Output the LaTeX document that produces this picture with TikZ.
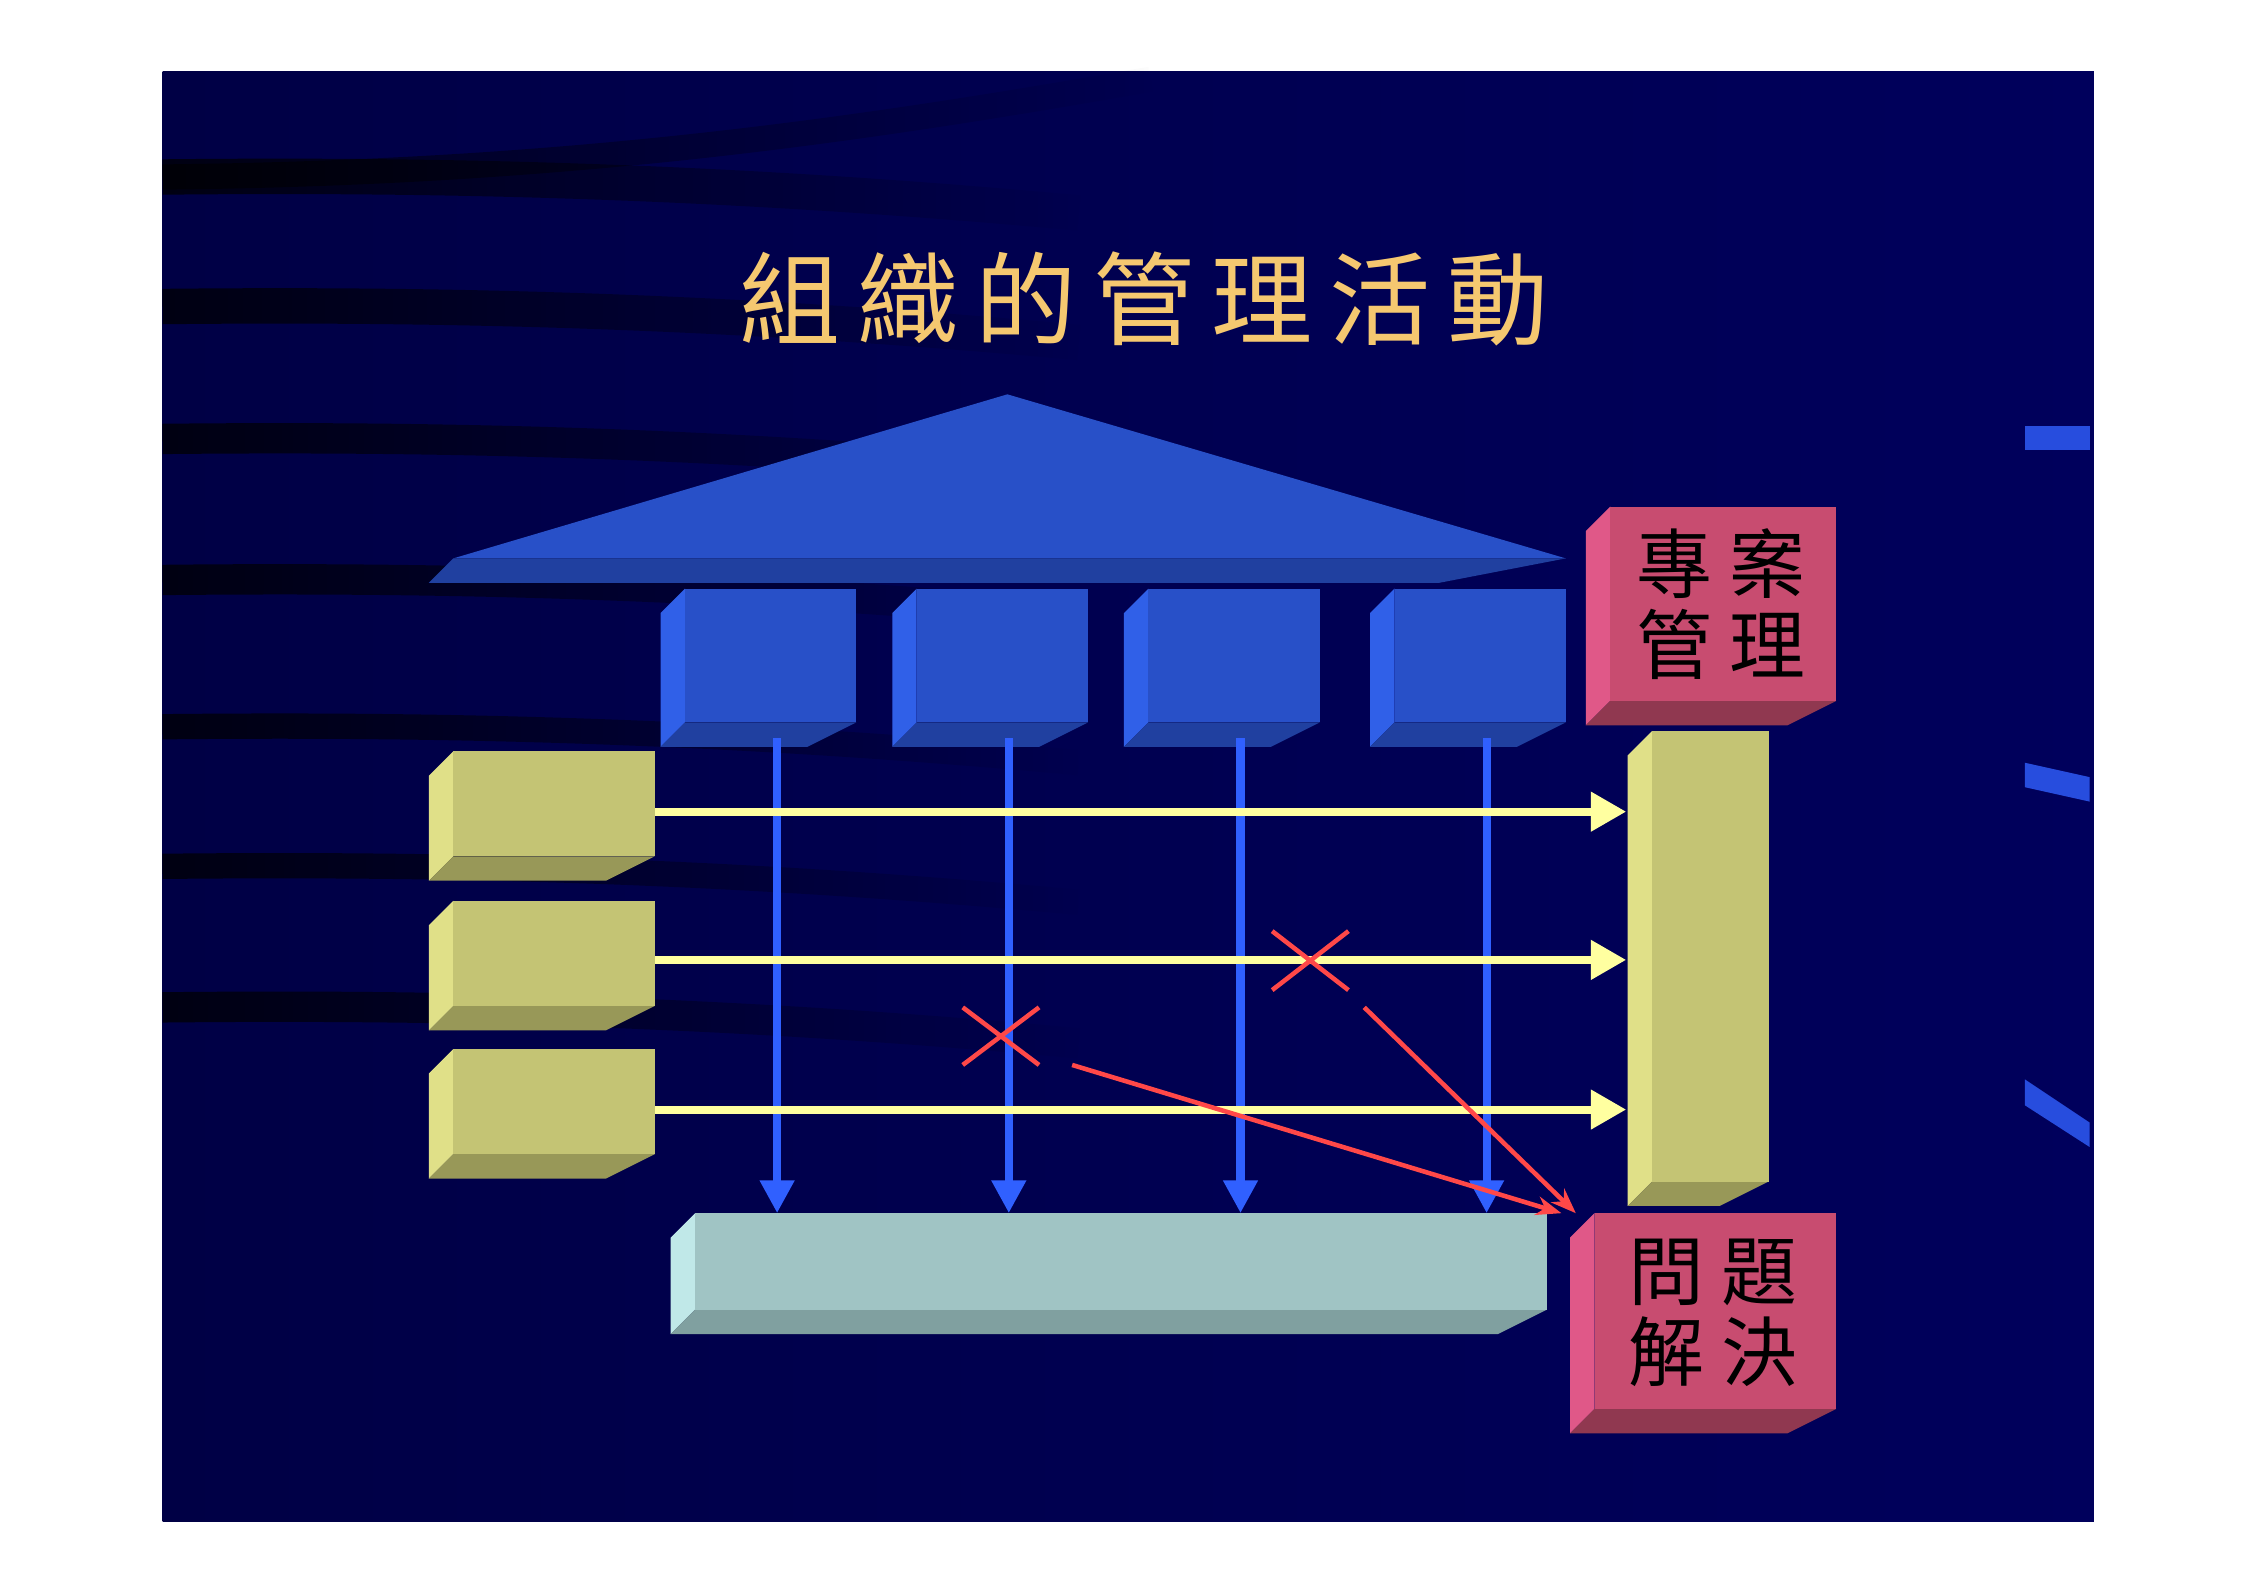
\documentclass[tikz,border=0pt]{standalone}
\usepackage{fontspec}
\newfontfamily\cjk{Noto Sans CJK TC}
\definecolor{slide}{HTML}{00005C}
\definecolor{gold}{HTML}{F5C870}
\definecolor{roof}{HTML}{2850C8}
\definecolor{roofd}{HTML}{2040A0}
\definecolor{bfront}{HTML}{2850C8}
\definecolor{bleft}{HTML}{3060E8}
\definecolor{bbot}{HTML}{2040A0}
\definecolor{pfront}{HTML}{C84C70}
\definecolor{pleft}{HTML}{E05888}
\definecolor{pbot}{HTML}{903850}
\definecolor{ofront}{HTML}{C4C474}
\definecolor{oleft}{HTML}{E0E088}
\definecolor{obot}{HTML}{989858}
\definecolor{tfront}{HTML}{A0C4C4}
\definecolor{tleft}{HTML}{C0E8E8}
\definecolor{tbot}{HTML}{80A0A0}
\definecolor{yarr}{HTML}{FFFFA0}
\definecolor{barr}{HTML}{3060FF}
\definecolor{rx}{HTML}{FF4848}
\usetikzlibrary{arrows.meta,fadings}
\tikzset{
  yline/.style={yarr,line width=3.2pt,-{Triangle[length=14pt,width=15pt]}},
  bline/.style={barr,line width=3.2pt,-{Triangle[length=13pt,width=13pt]}},
  rline/.style={rx,line width=1.8pt},
  lab/.style={font=\cjk\fontsize{30}{36}\selectfont,text=black,align=center}
}
\newcommand{\bevbox}[8]{%
  \fill[#6] (#1,#2+#5) -- (#1+#5,#2) -- (#1+#5,#4-#5) -- (#1,#4) -- cycle;
  \fill[#8] (#1,#4) -- (#1+#5,#4-#5) -- (#3,#4-#5) -- (#3-2*#5,#4) -- cycle;
  \fill[#7] (#1+#5,#2) rectangle (#3,#4-#5);
}
\begin{document}
\begin{tikzpicture}[x=0.02cm,y=-0.02cm]
\useasboundingbox (0,0) rectangle (1560,1103);
\fill[white] (0,0) rectangle (1560,1103);
\shade[left color=slide!75!black,right color=slide] (113,50) rectangle (1455,1057);
% dark streaks
\foreach \y/\w in {123/14,213/14,305/12,403/12,505/10,602/10,700/12}
  \draw[black,line width=\w pt,path fading=east,opacity=0.75] (113,\y) .. controls (300,\y-2) and (500,\y+2) .. (750,\y+25);
\draw[black,line width=10pt,opacity=0.6,path fading=east] (113,123) .. controls (400,120) and (600,90) .. (800,55);
% right edge bars
\fill[barr!80!slide] (1407,296) rectangle (1452,313);
\fill[barr!80!slide] (1407,530) -- (1452,540) -- (1452,557) -- (1407,547) -- cycle;
\fill[barr!80!slide] (1407,750) -- (1452,780) -- (1452,797) -- (1407,768) -- cycle;
\node[font=\cjk\fontsize{40}{48}\selectfont,text=gold] (title) at (795,208) {組\,織\,的\,管\,理\,活\,動};
% roof
\fill[roof] (315,388) -- (700,274) -- (1088,388) -- cycle;
\fill[roofd] (298,405) -- (315,388) -- (1088,388) -- (1000,405) -- cycle;
% blue boxes
\foreach \x in {459,620,781,952}
  \bevbox{\x}{409}{\x+136}{519}{17}{bleft}{bfront}{bbot};
% pink boxes
\bevbox{1102}{352}{1276}{504}{17}{pleft}{pfront}{pbot}
\node[lab] (pm) at (1196,420) {專 案\\[-4pt]管 理};
\bevbox{1091}{843}{1276}{996}{17}{pleft}{pfront}{pbot}
\node[lab] (ps) at (1190,912) {問 題\\[-4pt]解 決};
% olive boxes
\foreach \y [count=\i] in {522,626,729}
  \bevbox{298}{\y}{455}{\y+90}{17}{oleft}{ofront}{obot};
\bevbox{1131}{508}{1229}{838}{17}{oleft}{ofront}{obot}
% teal bar
\bevbox{466}{843}{1075}{927}{17}{tleft}{tfront}{tbot}
% blue arrows
\foreach \x in {540,701,862,1033}
  \draw[bline] (\x,513) -- (\x,843);
% yellow arrows
\foreach \y in {564,667,771}
  \draw[yline] (455,\y) -- (1130,\y);
% red
\draw[rline] (884,647) -- (937,688) (884,688) -- (937,647);
\draw[rline] (669,700) -- (722,740) (669,740) -- (722,700);
\draw[rline,-{Stealth[length=10pt]}] (948,700) -- (1095,843);
\draw[rline,-{Stealth[length=10pt]}] (745,740) -- (1085,843);
\end{tikzpicture}
\end{document}
